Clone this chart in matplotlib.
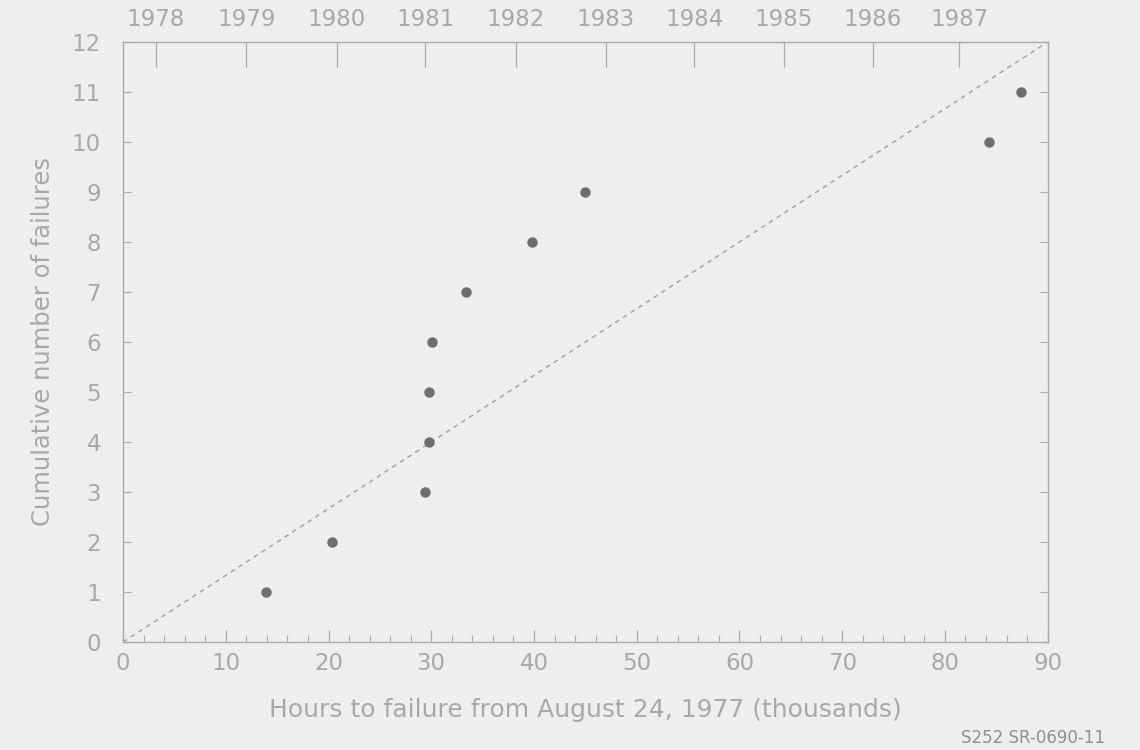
import numpy as np
import matplotlib
matplotlib.use("Agg")
import matplotlib.pyplot as plt
from matplotlib.ticker import MultipleLocator

# Hours to failure (thousands) and cumulative failure count
hours_k = [13.9, 20.3, 29.4, 29.8, 29.8, 30.1, 33.4, 39.8, 45.0, 84.3, 87.4]
cum_failures = [1, 2, 3, 4, 5, 6, 7, 8, 9, 10, 11]

# reference line (constant rate)
ref_x = [0, 90]
ref_y = [0, 12]

# calendar years on top axis (Jan 1, in thousands of hours)
year_pos = [3.2, 12.0, 20.8, 29.4, 38.2, 47.0, 55.6, 64.3, 73.0, 81.4]
year_labels = ["1978", "1979", "1980", "1981", "1982", "1983", "1984",
               "1985", "1986", "1987"]

BG = "#eeeeee"
INK = "#a8a8a8"
SPINE = "#aaaaaa"

plt.rcParams["font.family"] = ["DejaVu Sans"]

fig = plt.figure(figsize=(11.4, 7.5), dpi=100, facecolor=BG)
ax = fig.add_axes([0.108, 0.144, 0.811, 0.8])
ax.set_facecolor(BG)

ax.plot(ref_x, ref_y, linestyle=(0, (3, 3)), color="#a5a5a5", lw=1.1)
ax.plot(hours_k, cum_failures, "o", color="#6e6e6e", ms=7.5, mec="none")

ax.set_xlim(0, 90)
ax.set_ylim(0, 12)
ax.xaxis.set_major_locator(MultipleLocator(10))
ax.xaxis.set_minor_locator(MultipleLocator(2))
ax.yaxis.set_major_locator(MultipleLocator(1))

for s in ax.spines.values():
    s.set_color(SPINE)
    s.set_linewidth(1.0)

ax.tick_params(axis="x", which="major", direction="in", length=9, width=0.9,
               color=SPINE, labelcolor=INK, labelsize=16.5, pad=7)
ax.tick_params(axis="x", which="minor", direction="in", length=5, width=0.8,
               color=SPINE)
ax.tick_params(axis="y", which="major", direction="in", length=6, width=0.8,
               color=SPINE, labelcolor=INK, labelsize=16.5, pad=16,
               right=True)

ax.set_xlabel("Hours to failure from August 24, 1977 (thousands)",
              color=INK, fontsize=18, labelpad=17)
ax.set_ylabel("Cumulative number of failures", color=INK, fontsize=17.5,
              labelpad=12)

top = ax.twiny()
top.set_xlim(ax.get_xlim())
top.set_xticks(year_pos)
top.set_xticklabels(year_labels)
top.tick_params(axis="x", direction="in", length=18, width=0.9, color=SPINE,
                labelcolor=INK, labelsize=16.5, pad=8)
for s in top.spines.values():
    s.set_visible(False)

fig.text(0.969, 0.004, "S252 SR-0690-11", ha="right", va="bottom",
         fontsize=12, color="#8f8f8f")

fig.savefig("out.png", dpi=100, facecolor=BG)
